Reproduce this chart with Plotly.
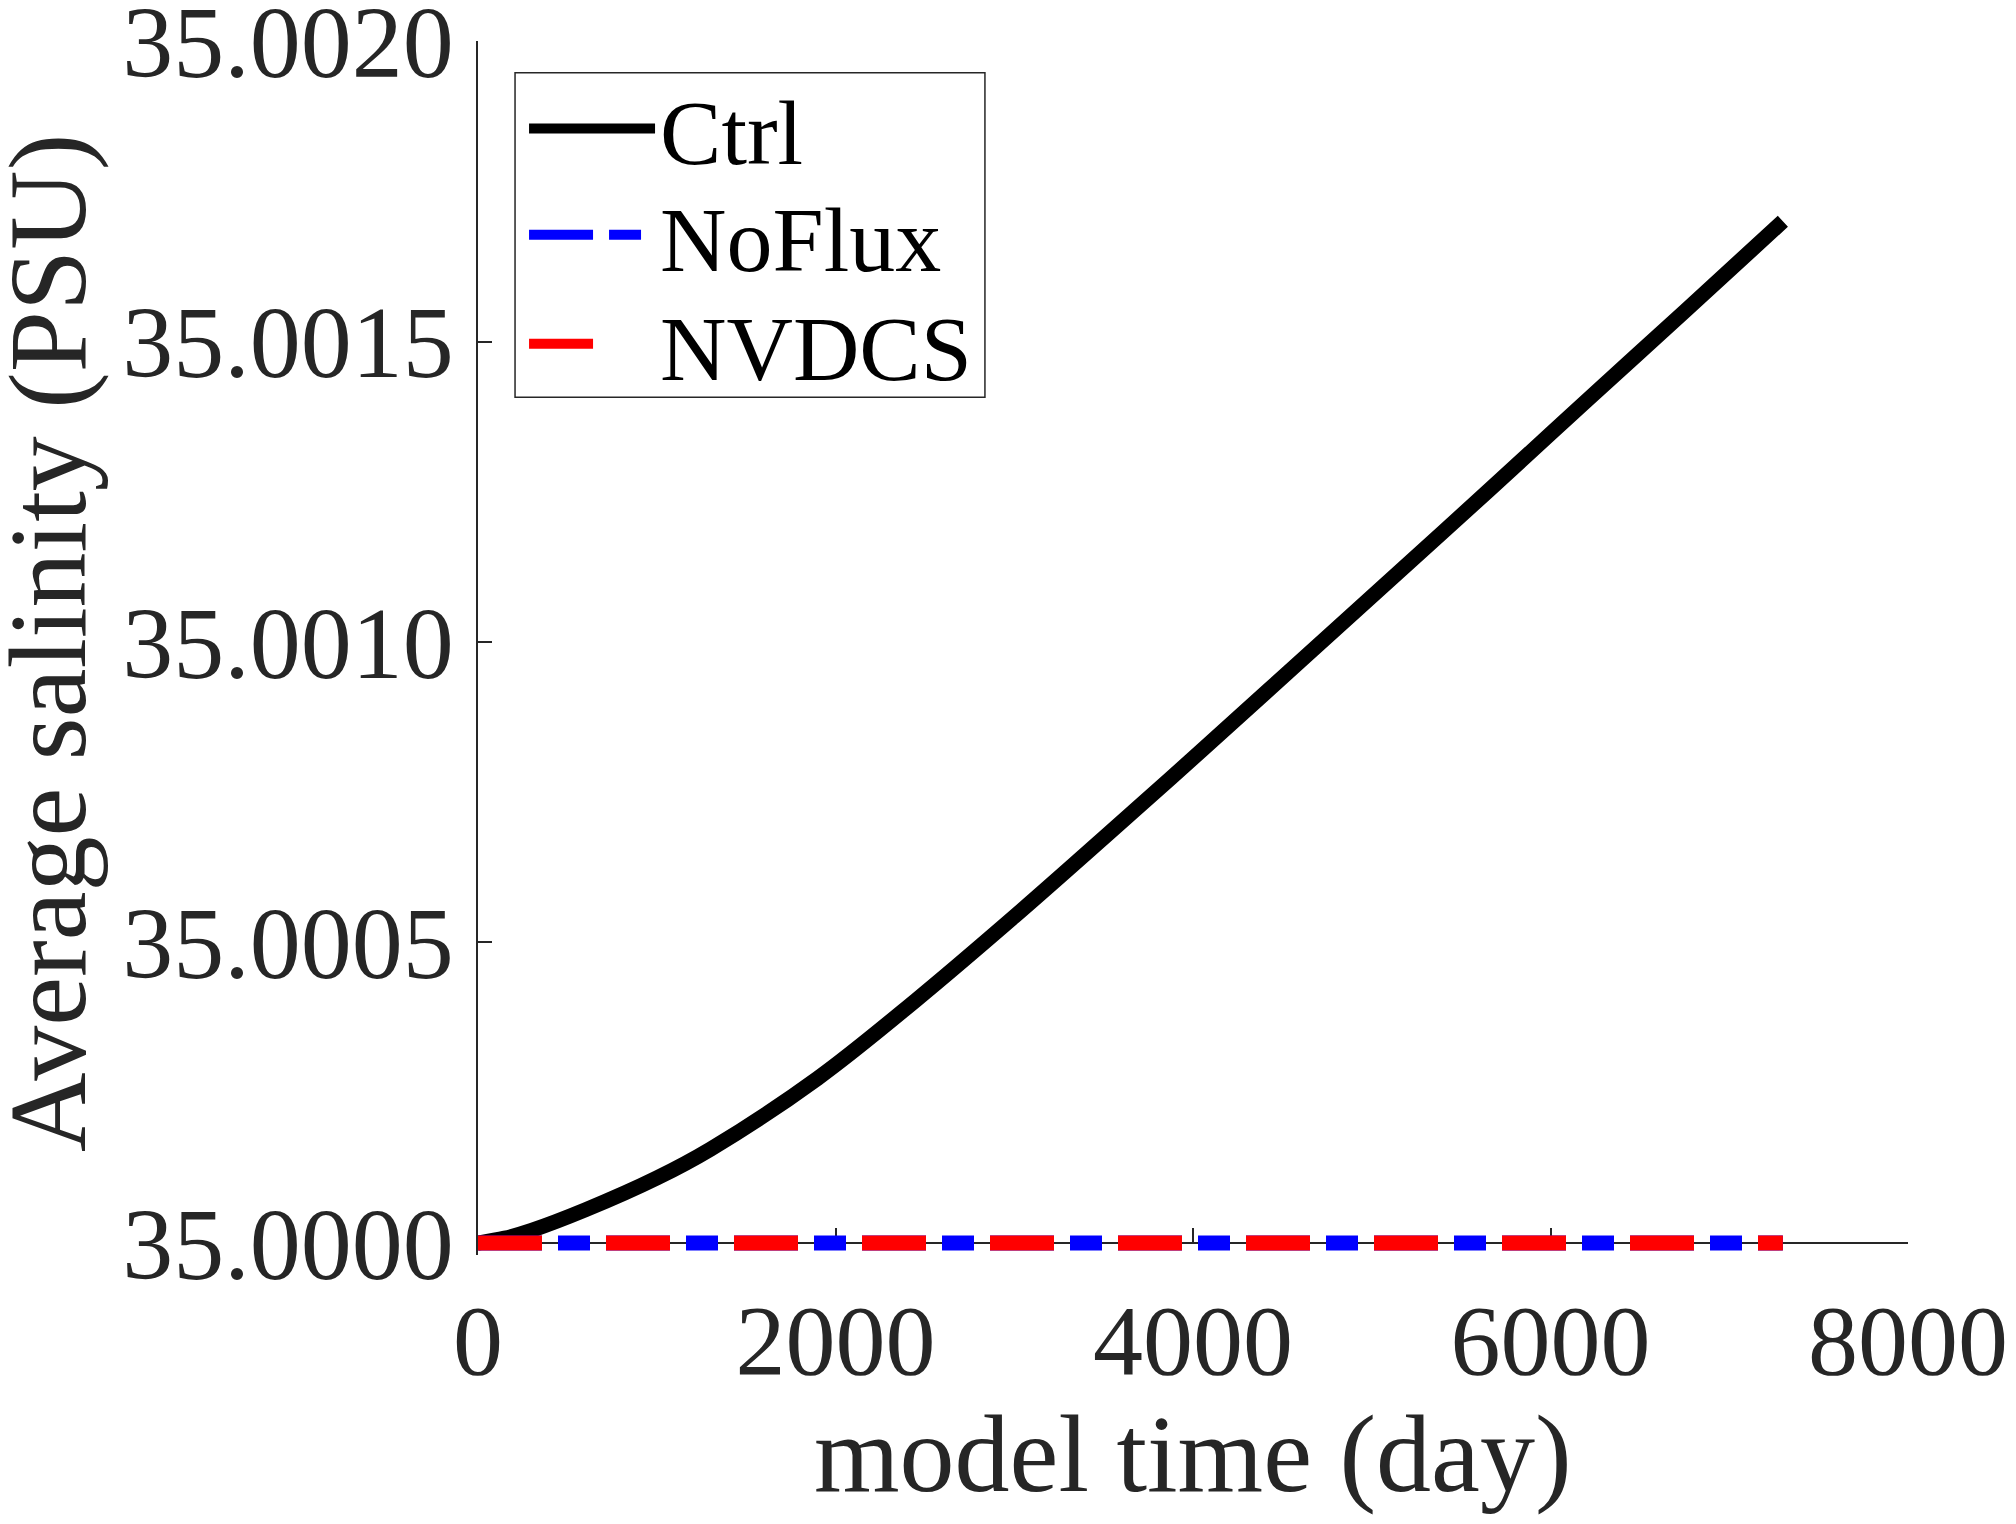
import plotly.graph_objects as go

# model time (day)
days = [0, 150, 300, 600, 1000, 1300, 1900, 2450, 3000, 3500, 4050, 4600, 5150, 5650, 6200, 6750, 7300]

# average salinity (PSU)
ctrl = [35.0, 35.000008, 35.000021, 35.000055, 35.000108, 35.000156, 35.000274, 35.000404, 35.000543,
        35.000674, 35.00082, 35.000968, 35.001116, 35.001251, 35.001401, 35.00155, 35.0017]
noflux = [35.0, 35.0, 35.0, 35.0, 35.0, 35.0, 35.0, 35.0, 35.0, 35.0, 35.0, 35.0, 35.0, 35.0, 35.0, 35.0, 35.0]
nvdcs = [35.0, 35.0, 35.0, 35.0, 35.0, 35.0, 35.0, 35.0, 35.0, 35.0, 35.0, 35.0, 35.0, 35.0, 35.0, 35.0, 35.0]

x_ticks = [0, 2000, 4000, 6000, 8000]
y_ticks = [35.0, 35.0005, 35.001, 35.0015, 35.002]

FONT = 'Liberation Serif'
AXCOL = '#262626'

# a little room below 35.0 so the thick dashed lines are not clipped
y_pad = 0.00002
y_lo, y_hi = 35.0 - y_pad, 35.002 + 1e-9

# legend rows (paper y of each row centre) and frame, as in the original
legend_rows = [0.9278, 0.8403, 0.7504]
legend_x = 0.0322
frame = dict(x0=0.0259, x1=0.3545, y0=0.7065, y1=0.9739)


def plot():
    fig = go.Figure()
    fig.add_trace(go.Scatter(x=days, y=ctrl, name='Ctrl', mode='lines', line_shape='spline',
                             line=dict(color='black', width=15), legend='legend'))
    fig.add_trace(go.Scatter(x=days, y=noflux, name='NoFlux', mode='lines',
                             line=dict(color='#0000ff', width=15, dash='64px,16px,32px,16px'),
                             legend='legend2'))
    fig.add_trace(go.Scatter(x=days, y=nvdcs, name='NVDCS', mode='lines',
                             line=dict(color='#ff0000', width=15, dash='64px,64px'),
                             legend='legend3'))

    leg = dict(x=legend_x, xanchor='left', yanchor='middle', bgcolor='rgba(0,0,0,0)',
               borderwidth=0, font=dict(family=FONT, size=92, color='black'), itemwidth=126)

    # the page body has an 8px margin, so the figure is 8px smaller than the window
    fig.update_layout(
        width=2008, height=1516,
        margin=dict(l=470, r=108, t=33, b=269),
        paper_bgcolor='white', plot_bgcolor='white',
        font=dict(family=FONT, color=AXCOL),
        showlegend=True,
        legend=dict(leg, y=legend_rows[0]),
        legend2=dict(leg, y=legend_rows[1]),
        legend3=dict(leg, y=legend_rows[2]),
        shapes=[dict(type='rect', xref='paper', yref='paper', line=dict(color=AXCOL, width=1.5),
                     fillcolor='rgba(0,0,0,0)', **frame)],
        annotations=[
            dict(text='model time (day)', xref='paper', yref='paper', x=0.5, y=-0.1639,
                 xanchor='center', yanchor='middle', showarrow=False,
                 font=dict(family=FONT, size=110, color=AXCOL)),
            dict(text='Average salinity (PSU)', xref='paper', yref='paper', x=-0.3007, y=0.5041,
                 xanchor='center', yanchor='middle', showarrow=False, textangle=-90,
                 font=dict(family=FONT, size=110, color=AXCOL)),
        ],
    )
    fig.update_xaxes(
        range=[0, 8000], tickvals=x_ticks, ticktext=[str(v) for v in x_ticks],
        anchor='free', position=y_pad / (y_hi - y_lo), automargin=False,
        showline=True, linecolor=AXCOL, linewidth=1.5, showgrid=False, zeroline=False,
        ticks='inside', ticklen=14, tickwidth=1.5, tickcolor=AXCOL,
        tickfont=dict(family=FONT, size=100, color=AXCOL),
        ticklabelstandoff=10, ticklabeloverflow='allow',
        layer='below traces',
    )
    fig.update_yaxes(
        range=[y_lo, y_hi], tickvals=y_ticks, ticktext=['%.4f' % v for v in y_ticks],
        automargin=False,
        showline=True, linecolor=AXCOL, linewidth=1.5, showgrid=False, zeroline=False,
        ticks='inside', ticklen=14, tickwidth=1.5, tickcolor=AXCOL,
        tickfont=dict(family=FONT, size=102, color=AXCOL),
        ticklabelstandoff=2, ticklabeloverflow='allow',
        layer='below traces',
    )
    return fig


if __name__ == '__main__':
    fig = plot()
    fig.write_html('out.html')
